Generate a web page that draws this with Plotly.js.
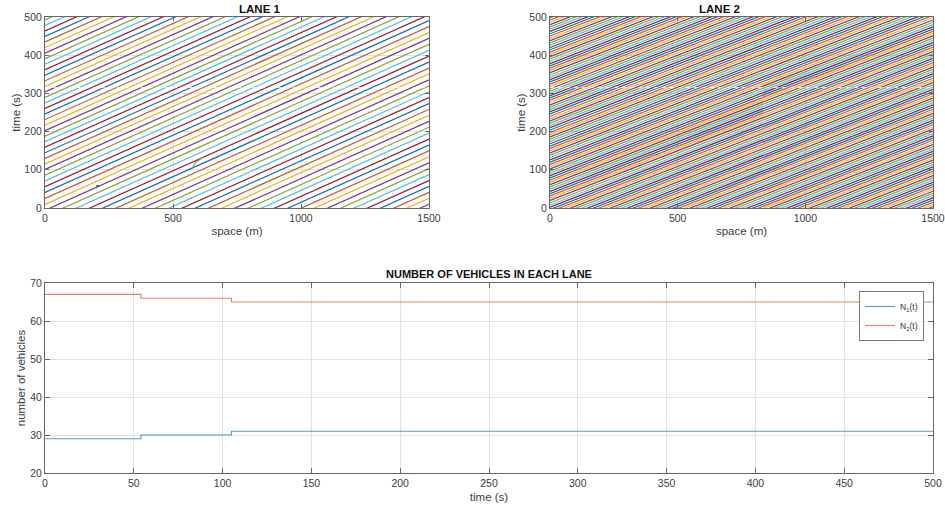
<!DOCTYPE html>
<html>
<head>
<meta charset="utf-8">
<script src="https://cdn.plot.ly/plotly-3.0.1.min.js"></script>
<style>html,body{margin:0;padding:0;background:#fff;}#chart{width:945px;height:508px;}</style>
</head>
<body>
<div id="chart"></div>
<script>
// ---------------- DATA ----------------
// MATLAB default colour order used for vehicle trajectories
const trajColors = ['#0072BD','#D95319','#EDB120','#7E2F8E','#77AC30','#4DBEEE','#A2142F'];
const roadLength = 1500;           // m (ring road)

// LANE 1: time (s) at which each trajectory crosses x = 0, lap time (s)
const lane1Lap = 450;
const lane1FirstLap = [-440,-424.5,-409,-393.5,-378,-362.5,-347,-331.5,-316,-300.5,-285,-269.5,-254,-238.5,-223,-207.5,-192,-176.5,-161,-145.5,-130,-114.5,-99,-83.5,-68,-52.5,-37,-21.5,-6];
const lane1LaterLaps = [9.5,25,40.5,56,71,86,101,115.5,130,144.5,159,173.5,188,202.5,217,231.5,246,260.5,275,289.5,304,318.5,333,347.5,362,376.5,391,405.5,420,434.5,449,463.5,478,492.5];
// lane-change events into lane 1 (trajectory points: space m, time s)
const mergeB_x = [200,202,206,214];
const mergeB_t = [54,57.5,59,58.2];
const mergeC_x = [577,579,584,592,604,620];
const mergeC_t = [105.1,110,116,122,127.5,133.5];

// LANE 2
const lane2Lap = 390;
const lane2FirstLap = [-386.6,-380.8,-375,-369.2,-363.4,-357.6,-351.8,-346,-340.2,-334.4,-328.6,-322.8,-317,-311.2,-305.4,-299.6,-293.8,-288,-282.2,-276.4,-270.6,-264.8,-259,-253.2,-247.4,-241.6,-235.8,-230,-224.2,-218.4,-212.6,-206.8,-201,-195.2,-189.4,-183.6,-177.8,-172,-166.2,-160.4,-154.6,-148.8,-143,-137.2,-131.4,-125.6,-119.8,-114,-108.2,-102.4,-96.6,-90.8,-85,-79.2,-73.4,-67.6,-61.8,-56,-50.2,-44.4,-38.6,-32.8,-27,-21.2,-15.4,-9.6,-3.8,2];
const lane2LaterLaps = [7.8,13.7,19.6,25.5,31.4,37.3,43.2,49.1,55,60.9,66.8,72.7,78.6,84.5,90.4,96.3,102.2,108.1,114.1,120.1,126.1,132.1,138.1,144.1,150.1,156.1,162.1,168.1,174.1,180.1,186.1,192.1,198.1,204.1,210.1,216.1,222.1,228.1,234.1,240.1,246.1,252.1,258.1,264.1,270.1,276.1,282.1,288.1,294.1,300.1,306.1,312.1,318.1,324.1,330.1,336.1,342.1,348.1,354.1,360.1,366.1,372.1,378.1,384.1,390.1,396.1,402.1,408.1,414.1,420.1,426.1,432.1,438.1,444.1,450.1,456.1,462.1,468.1,474.1,480.1,486.1,492.1,498.1];

// Bottom panel: number of vehicles in each lane
const timeSteps = [0,54,105,500];
const nLane1 = [29,30,31,31];
const nLane2 = [67,66,65,65];

// ---------------- BUILD ----------------
function laneTraces(first, later, lap, xa, ya){
  const all = first.concat(later).sort((a,b)=>a-b);
  const groups = trajColors.map(()=>({x:[],y:[]}));
  all.forEach((t0,k)=>{
    const ci = ((3 - k) % 7 + 7) % 7;
    groups[ci].x.push(0, roadLength, null);
    groups[ci].y.push(t0, t0 + lap, null);
  });
  return groups.map((g,i)=>({
    type:'scatter', mode:'lines', x:g.x, y:g.y, xaxis:xa, yaxis:ya,
    line:{color:trajColors[i], width:1.2}, showlegend:false, hoverinfo:'skip'
  }));
}

const traces = [];
traces.push(...laneTraces(lane1FirstLap, lane1LaterLaps, lane1Lap, 'x', 'y'));
traces.push({type:'scatter',mode:'lines',x:mergeB_x,y:mergeB_t,xaxis:'x',yaxis:'y',line:{color:trajColors[0],width:1.2},showlegend:false,hoverinfo:'skip'});
traces.push({type:'scatter',mode:'lines',x:mergeC_x,y:mergeC_t,xaxis:'x',yaxis:'y',line:{color:trajColors[4],width:1.2},showlegend:false,hoverinfo:'skip'});
traces.push(...laneTraces(lane2FirstLap, lane2LaterLaps, lane2Lap, 'x2', 'y2'));

traces.push({type:'scatter',mode:'lines',name:'N<sub>1</sub>(t)',x:timeSteps,y:nLane1,xaxis:'x3',yaxis:'y3',
  line:{color:'#0072BD',width:1.1,shape:'hv'},opacity:0.7});
traces.push({type:'scatter',mode:'lines',name:'N<sub>2</sub>(t)',x:timeSteps,y:nLane2,xaxis:'x3',yaxis:'y3',
  line:{color:'#D95319',width:1.1,shape:'hv'},opacity:0.7});

// ---------------- LAYOUT ----------------
const tickFont = {family:'Liberation Sans, Arial, sans-serif', size:10.5, color:'#404040'};
const titleFont = {family:'Liberation Sans, Arial, sans-serif', size:11.5, color:'#404040'};
function ax(extra){
  return Object.assign({
    showline:true, linecolor:'#666', linewidth:1, mirror:'ticks',
    ticks:'inside', ticklen:4, tickcolor:'#666', tickwidth:1,
    showgrid:true, gridcolor:'#e3e3e3', gridwidth:1, zeroline:false,
    tickfont:tickFont, automargin:false
  }, extra);
}
const W=945, H=508, L=45, R=12, T=17, B=35;
const pw = W-L-R, ph = H-T-B;
const px = v => (v-L)/pw;
const py = v => 1-(v-T)/ph;

const layout = {
  width:W, height:H,
  margin:{l:L,r:R,t:T,b:B,pad:0},
  paper_bgcolor:'#fff', plot_bgcolor:'#fff',
  font:{family:'Liberation Sans, Arial, sans-serif', color:'#404040'},
  xaxis: ax({domain:[px(45),px(429)], range:[0,1500], dtick:500, anchor:'y', title:{text:'space (m)', font:titleFont, standoff:4}}),
  yaxis: ax({domain:[py(208),py(17)], range:[0,500], dtick:100, anchor:'x', title:{text:'time (s)', font:titleFont, standoff:1}}),
  xaxis2: ax({domain:[px(550),px(933)], range:[0,1500], dtick:500, anchor:'y2', title:{text:'space (m)', font:titleFont, standoff:4}}),
  yaxis2: ax({domain:[py(208),py(17)], range:[0,500], dtick:100, anchor:'x2', title:{text:'time (s)', font:titleFont, standoff:1}}),
  xaxis3: ax({domain:[px(45),px(933)], range:[0,500], dtick:50, anchor:'y3', ticklen:5, title:{text:'time (s)', font:titleFont, standoff:5}}),
  yaxis3: ax({domain:[py(473),py(283)], range:[20,70], dtick:10, anchor:'x3', ticklen:5, title:{text:'number of vehicles', font:titleFont, standoff:2}}),
  showlegend:true,
  legend:{x:px(924), xanchor:'right', y:py(291), yanchor:'top', bgcolor:'#fff', bordercolor:'#777', borderwidth:1,
    font:{family:'Liberation Sans, Arial, sans-serif', size:8.5, color:'#333'}, tracegroupgap:0, itemwidth:30},
  annotations:[
    {text:'<b>LANE 1</b>', xref:'paper', yref:'paper', x:(px(45)+px(429))/2, y:py(9), showarrow:false, font:{size:11.5,color:'#111'}, yanchor:'middle'},
    {text:'<b>LANE 2</b>', xref:'paper', yref:'paper', x:(px(550)+px(933))/2, y:py(9), showarrow:false, font:{size:11.5,color:'#111'}, yanchor:'middle'},
    {text:'<b>NUMBER OF VEHICLES IN EACH LANE</b>', xref:'paper', yref:'paper', x:(px(45)+px(933))/2, y:py(274), showarrow:false, font:{size:11,color:'#111'}, yanchor:'middle'}
  ],
  shapes:[
    {type:'line', xref:'x', yref:'y', x0:0, x1:1500, y0:315, y1:315, layer:'above', line:{color:'rgba(255,255,255,0.85)', width:1, dash:'4px,4px'}},
    {type:'line', xref:'x2', yref:'y2', x0:0, x1:1500, y0:315, y1:315, layer:'above', line:{color:'rgba(255,255,255,0.85)', width:1, dash:'4px,4px'}}
  ]
};

Plotly.newPlot('chart', traces, layout, {displayModeBar:false, staticPlot:true});
</script>
</body>
</html>
